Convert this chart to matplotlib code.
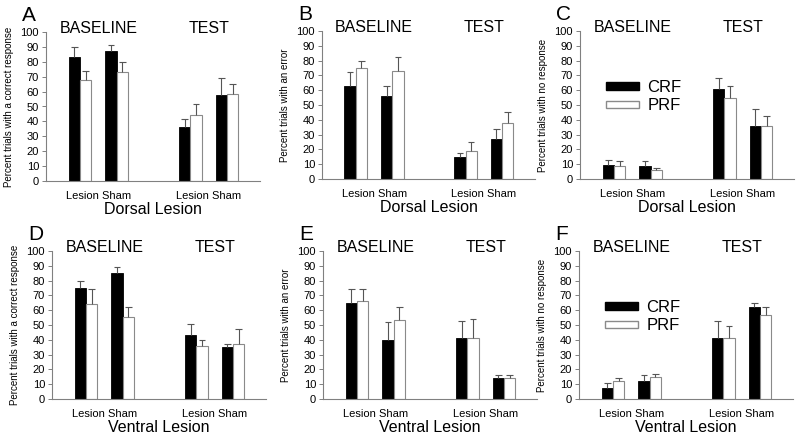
import matplotlib
matplotlib.use("Agg")
import matplotlib.pyplot as plt
from matplotlib.patches import Rectangle

plt.rcParams["font.family"] = ["Liberation Sans", "DejaVu Sans"]

# ----------------------------------------
# DATA  (order: baseline lesion, baseline sham, test lesion, test sham)
# ----------------------------------------
positions = [1, 2, 4, 5]
group_centers = [1.5, 4.5]
group_labels = ["Lesion Sham", "Lesion Sham"]
phase_labels = ["BASELINE", "TEST"]

a_crf = [83.5, 87.5, 36, 58]
a_crf_err = [6.5, 3.5, 5.5, 11]
a_prf = [68, 73, 44, 58.5]
a_prf_err = [5.5, 7, 8, 6.5]

b_crf = [63, 56, 15, 27]
b_crf_err = [9, 7, 2.5, 7]
b_prf = [75, 73, 19, 37.5]
b_prf_err = [5, 9.5, 6, 8]

c_crf = [9.5, 8.5, 61, 35.5]
c_crf_err = [3.5, 3.5, 7, 12]
c_prf = [9, 6, 54.5, 35.5]
c_prf_err = [3, 1.5, 8, 7]

d_crf = [75, 85, 43, 35]
d_crf_err = [5, 4, 8, 2.5]
d_prf = [64, 55.5, 36, 37.5]
d_prf_err = [10.5, 6.5, 4, 10]

e_crf = [65, 40, 41.5, 14.5]
e_crf_err = [9, 12, 11.5, 2]
e_prf = [66, 53.5, 41.5, 14.5]
e_prf_err = [8, 9, 12.5, 2]

f_crf = [7.5, 12.5, 41.5, 62.5]
f_crf_err = [3.5, 4, 11, 2.5]
f_prf = [12, 15, 41.5, 56.5]
f_prf_err = [2.5, 2, 8, 6]

ylab_correct = "Percent trials with a correct response"
ylab_error = "Percent trials with an error"
ylab_none = "Percent trials with no response"

# ----------------------------------------
# LAYOUT (pixel boxes: left, top, right, bottom)
# ----------------------------------------
W, H = 800, 440
panels = [
    ("A", (46, 32, 260, 181), a_crf, a_crf_err, a_prf, a_prf_err, ylab_correct, "Dorsal Lesion", False),
    ("B", (322, 31, 535, 179), b_crf, b_crf_err, b_prf, b_prf_err, ylab_error, "Dorsal Lesion", False),
    ("C", (580, 31, 794, 179), c_crf, c_crf_err, c_prf, c_prf_err, ylab_none, "Dorsal Lesion", True),
    ("D", (52, 251, 266, 399), d_crf, d_crf_err, d_prf, d_prf_err, ylab_correct, "Ventral Lesion", False),
    ("E", (323, 251, 537, 399), e_crf, e_crf_err, e_prf, e_prf_err, ylab_error, "Ventral Lesion", False),
    ("F", (579, 251, 793, 399), f_crf, f_crf_err, f_prf, f_prf_err, ylab_none, "Ventral Lesion", True),
]

BAR_W = 0.31
CAP = 0.09
AXIS_GREY = "#808080"

fig = plt.figure(figsize=(W / 100, H / 100), dpi=100)

for letter, box, crf, crf_err, prf, prf_err, ylab, xlab, show_legend in panels:
    l, t, r, b = box
    ax = fig.add_axes([l / W, 1 - b / H, (r - l) / W, (b - t) / H])

    x_black = [p - BAR_W / 2 for p in positions]
    x_white = [p + BAR_W / 2 for p in positions]
    ax.bar(x_black, crf, width=BAR_W, color="black", edgecolor="black", linewidth=0.6, zorder=2)
    ax.bar(x_white, prf, width=BAR_W, color="white", edgecolor="#8a8a8a", linewidth=0.8, zorder=2)

    # upward-only error bars
    for xs, means, errs in [(x_black, crf, crf_err), (x_white, prf, prf_err)]:
        tops = [m + e for m, e in zip(means, errs)]
        ax.vlines(xs, means, tops, color="#555555", linewidth=0.8, zorder=3)
        ax.hlines(tops, [x - CAP for x in xs], [x + CAP for x in xs], color="#555555", linewidth=0.8, zorder=3)

    ax.set_xlim(0.075, 5.9)
    ax.set_ylim(0, 100)
    ax.set_yticks(range(0, 101, 10))
    ax.tick_params(axis="y", direction="out", length=3, width=0.7, color=AXIS_GREY, labelsize=8, pad=2)
    ax.set_xticks(group_centers, group_labels)
    ax.tick_params(axis="x", length=0, labelsize=8, pad=7)

    for side in ["top", "right"]:
        ax.spines[side].set_visible(False)
    for side in ["left", "bottom"]:
        ax.spines[side].set_color(AXIS_GREY)
        ax.spines[side].set_linewidth(0.8)

    ax.set_ylabel(ylab, fontsize=7)
    ax.yaxis.set_label_coords(-32 / (r - l), 0.5)
    ax.set_xlabel(xlab, fontsize=11.5, labelpad=1)

    for xc, phase in zip(group_centers, phase_labels):
        ax.text(xc, 99, phase, ha="center", va="baseline", fontsize=11.5, clip_on=False)

    fig.text((l - 24) / W, 1 - (t - 11) / H, letter, fontsize=15, ha="left", va="baseline")

    if show_legend:
        handles = [Rectangle((0, 0), 1, 1, fc="black", ec="black"),
                   Rectangle((0, 0), 1, 1, fc="white", ec="#8a8a8a")]
        ax.legend(handles, ["CRF", "PRF"], loc="upper left", bbox_to_anchor=(0.12, 0.67),
                  frameon=False, fontsize=12, handlelength=2.0, handleheight=0.3,
                  labelspacing=0.2, handletextpad=0.5, borderpad=0, borderaxespad=0)

fig.savefig("out.png", dpi=100)
